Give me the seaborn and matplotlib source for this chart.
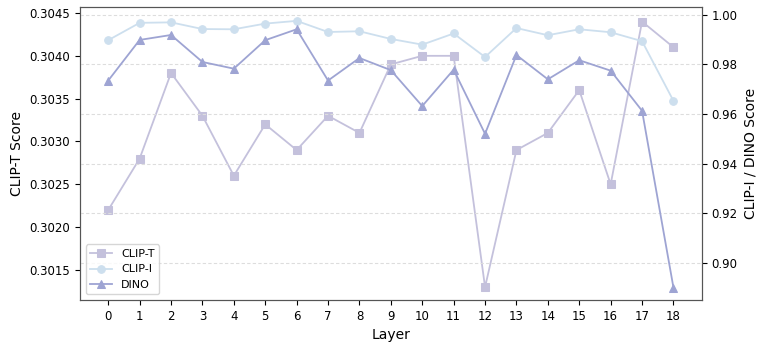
import pandas as pd
import seaborn as sns
import matplotlib.pyplot as plt

layers = list(range(19))
clip_t = [0.3022, 0.3028, 0.3038, 0.3033, 0.3026, 0.3032, 0.3029, 0.3033, 0.3031, 0.3039,
          0.3040, 0.3040, 0.3013, 0.3029, 0.3031, 0.3036, 0.3025, 0.3044, 0.3041]
clip_i = [0.9898, 0.9968, 0.9970, 0.9943, 0.9942, 0.9965, 0.9976, 0.9931, 0.9934, 0.9903,
          0.9880, 0.9925, 0.9830, 0.9947, 0.9918, 0.9942, 0.9930, 0.9894, 0.9653]
dino = [0.9735, 0.9899, 0.9919, 0.9810, 0.9783, 0.9898, 0.9942, 0.9735, 0.9826, 0.9777,
        0.9632, 0.9779, 0.9520, 0.9838, 0.9740, 0.9817, 0.9775, 0.9613, 0.8899]

df = pd.DataFrame({'Layer': layers, 'CLIP-T': clip_t, 'CLIP-I': clip_i, 'DINO': dino})

c_t = '#c4c1dc'
c_i = '#cddfee'
c_d = '#9ea4d3'

fig, ax1 = plt.subplots(figsize=(7.69, 3.5), dpi=100)
fig.subplots_adjust(left=0.104, right=0.9125, top=0.98, bottom=0.143)
ax2 = ax1.twinx()

sns.lineplot(data=df, x='Layer', y='CLIP-T', ax=ax1, color=c_t, marker='s', markersize=5.5,
             markeredgecolor=c_t, linewidth=1.3, label='CLIP-T', legend=False)
sns.lineplot(data=df, x='Layer', y='CLIP-I', ax=ax2, color=c_i, marker='o', markersize=5.5,
             markeredgecolor=c_i, linewidth=1.3, label='CLIP-I', legend=False)
sns.lineplot(data=df, x='Layer', y='DINO', ax=ax2, color=c_d, marker='^', markersize=5.5,
             markeredgecolor=c_d, linewidth=1.3, label='DINO', legend=False)

ax1.set_ylim(0.30115, 0.30457)
ax2.set_ylim(0.8849, 1.0032)
ax1.set_xticks(layers)
ax1.set_xlim(-0.9, 18.9)

ax1.set_xlabel('Layer', fontsize=10)
ax1.set_ylabel('CLIP-T Score', fontsize=10)
ax2.set_ylabel('CLIP-I / DINO Score', fontsize=10)
ax1.tick_params(labelsize=8.5)
ax2.tick_params(labelsize=8.5)
ax1.yaxis.set_major_formatter(plt.FormatStrFormatter('%.4f'))
ax2.set_yticks([0.90, 0.92, 0.94, 0.96, 0.98, 1.00])
ax2.yaxis.set_major_formatter(plt.FormatStrFormatter('%.2f'))

ax2.grid(axis='y', linestyle=(0, (3, 2)), color='#dddddd', linewidth=0.8)
for ax in (ax1, ax2):
    for s in ax.spines.values():
        s.set_color('#555555')

h1, l1 = ax1.get_legend_handles_labels()
h2, l2 = ax2.get_legend_handles_labels()
ax2.legend(h1 + h2, l1 + l2, loc='lower left', fontsize=8)

plt.savefig('out.png')
